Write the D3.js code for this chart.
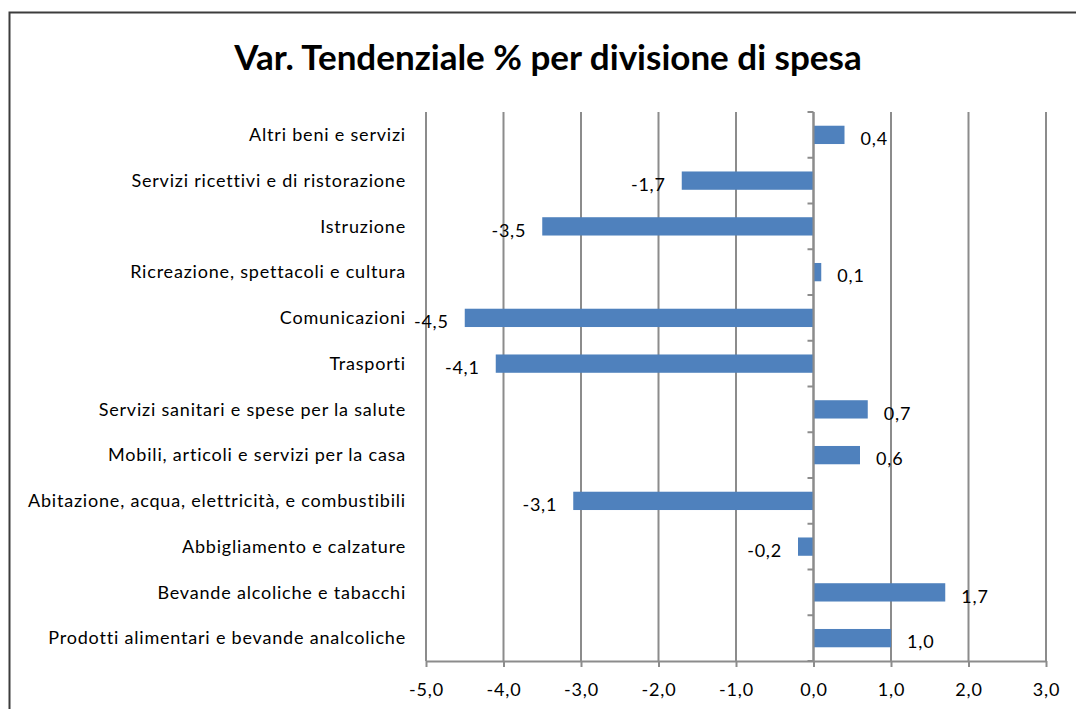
<!DOCTYPE html>
<html>
<head>
<meta charset="utf-8">
<script src="https://cdn.jsdelivr.net/npm/d3@7"></script>
<style>
  html, body { margin: 0; padding: 0; background: #fff; }
  svg { display: block; }
  text { font-family: Lato, "Open Sans", sans-serif; fill: #000; }
  .lbl { font-size: 18px; letter-spacing: 0.8px; }
</style>
</head>
<body>
<svg id="chart" width="1076" height="709"></svg>
<script>
const title = "Var. Tendenziale % per divisione di spesa";
const categories = [
  "Altri beni e servizi",
  "Servizi ricettivi e di ristorazione",
  "Istruzione",
  "Ricreazione, spettacoli e cultura",
  "Comunicazioni",
  "Trasporti",
  "Servizi sanitari e spese per la salute",
  "Mobili, articoli e servizi per la casa",
  "Abitazione, acqua, elettricità, e combustibili",
  "Abbigliamento e calzature",
  "Bevande alcoliche e tabacchi",
  "Prodotti alimentari e bevande analcoliche"
];
const values = [0.4, -1.7, -3.5, 0.1, -4.5, -4.1, 0.7, 0.6, -3.1, -0.2, 1.7, 1.0];
const xTicks = [-5, -4, -3, -2, -1, 0, 1, 2, 3];
const xDomain = [-5, 3];

const fmt = v => d3.format(".1f")(v).replace(".", ",").replace("−", "-");

const svg = d3.select("#chart");
const W = 1076, H = 709;
const margin = { left: 426, right: W - 1046, top: 112, bottom: H - 661 };

// chart border
svg.append("rect")
  .attr("x", 9.5).attr("y", 12.5)
  .attr("width", 1100).attr("height", 800)
  .attr("fill", "none").attr("stroke", "#3c3c3c").attr("stroke-width", 2);

// title
svg.append("text")
  .attr("x", 548).attr("y", 70)
  .attr("text-anchor", "middle")
  .style("font-size", "35px").style("font-weight", "bold")
  .text(title);

const x = d3.scaleLinear().domain(xDomain).range([margin.left, W - margin.right]);
const y = d3.scaleBand().domain(categories).range([margin.top, H - margin.bottom]).paddingInner(0.6).paddingOuter(0.3);

const gridColor = "#8c8c8c";

// gridlines
svg.append("g").selectAll("line").data(xTicks).join("line")
  .attr("x1", d => x(d)).attr("x2", d => x(d))
  .attr("y1", margin.top).attr("y2", H - margin.bottom)
  .attr("stroke", gridColor).attr("stroke-width", 2);

// x axis
const xAxis = d3.axisBottom(x).tickValues(xTicks).tickFormat(fmt).tickSize(6).tickSizeOuter(0);
const gx = svg.append("g").attr("transform", `translate(0,${H - margin.bottom})`).call(xAxis);
gx.attr("font-family", null).attr("font-size", null);
gx.select(".domain").attr("stroke", gridColor).attr("stroke-width", 2);
gx.selectAll(".tick line").attr("stroke", gridColor).attr("stroke-width", 2);
gx.selectAll(".tick text").attr("dy", 0).attr("y", 35).attr("class", "lbl").attr("fill", "#000");

// bars
svg.append("g").selectAll("rect").data(values).join("rect")
  .attr("x", d => x(Math.min(0, d)))
  .attr("width", d => Math.abs(x(d) - x(0)))
  .attr("y", (d, i) => y(categories[i]))
  .attr("height", y.bandwidth())
  .attr("fill", "#4f81bd");

// category axis at zero
const bounds = d3.range(categories.length + 1).map(i => margin.top + i * (H - margin.top - margin.bottom) / categories.length);
svg.append("line")
  .attr("x1", x(0)).attr("x2", x(0))
  .attr("y1", margin.top).attr("y2", H - margin.bottom)
  .attr("stroke", gridColor).attr("stroke-width", 2);
svg.append("g").selectAll("line").data(bounds).join("line")
  .attr("x1", x(0) - 6).attr("x2", x(0))
  .attr("y1", d => d).attr("y2", d => d)
  .attr("stroke", gridColor).attr("stroke-width", 2);

// category labels
svg.append("g").selectAll("text").data(categories).join("text")
  .attr("class", "lbl")
  .attr("x", 406)
  .attr("y", d => y(d) + y.bandwidth() / 2)
  .attr("dy", "0.35em")
  .attr("text-anchor", "end")
  .text(d => d);

// value labels
svg.append("g").selectAll("text").data(values).join("text")
  .attr("class", "lbl")
  .attr("x", d => d >= 0 ? x(d) + 16 : x(d) - 16)
  .attr("y", (d, i) => y(categories[i]) + y.bandwidth() / 2 + 4)
  .attr("dy", "0.35em")
  .attr("text-anchor", d => d >= 0 ? "start" : "end")
  .text(fmt);
</script>
</body>
</html>
